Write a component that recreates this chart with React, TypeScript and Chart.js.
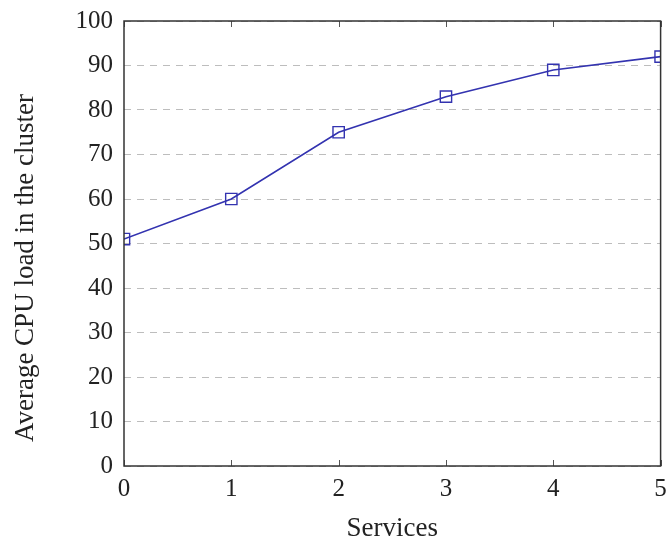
import React, { useEffect, useRef } from "react";
import { Chart, registerables } from "chart.js";

Chart.register(...registerables);

const services = [0, 1, 2, 3, 4, 5];
const cpuLoad = [51, 60, 75, 83, 89, 92];
const yTicks = [0, 10, 20, 30, 40, 50, 60, 70, 80, 90, 100];
const xTitle = "Services";
const yTitle = "Average CPU load in the cluster";

const FONT = "'Liberation Serif', 'DejaVu Serif', serif";

const boxPlugin = {
  id: "boxPlugin",
  afterDraw(chart: any) {
    const { ctx, chartArea } = chart;
    const xs = chart.scales.x;
    ctx.save();
    ctx.strokeStyle = "#555";
    ctx.lineWidth = 1;
    services.forEach((s) => {
      const px = Math.round(xs.getPixelForValue(s)) + 0.5;
      ctx.beginPath();
      ctx.moveTo(px, chartArea.bottom);
      ctx.lineTo(px, chartArea.bottom - 6);
      ctx.moveTo(px, chartArea.top);
      ctx.lineTo(px, chartArea.top + 6);
      ctx.stroke();
    });
    ctx.strokeStyle = "#333";
    ctx.lineWidth = 1.5;
    ctx.strokeRect(chartArea.left, chartArea.top, chartArea.right - chartArea.left, chartArea.bottom - chartArea.top);

    ctx.fillStyle = "#222";
    ctx.font = `27px ${FONT}`;
    ctx.textAlign = "center";
    ctx.textBaseline = "alphabetic";
    ctx.fillText(xTitle, (chartArea.left + chartArea.right) / 2, 536);
    ctx.translate(33, 268);
    ctx.rotate(-Math.PI / 2);
    ctx.fillText(yTitle, 0, 0);
    ctx.restore();
  },
};

export default function App() {
  const ref = useRef<HTMLCanvasElement>(null);
  useEffect(() => {
    if (!ref.current) return;
    const chart = new Chart(ref.current, {
      type: "line",
      data: {
        datasets: [
          {
            data: services.map((s, i) => ({ x: s, y: cpuLoad[i] })),
            borderColor: "#3333b0",
            borderWidth: 1.6,
            pointStyle: "rect",
            pointRadius: 8,
            pointBorderWidth: 1.4,
            pointBackgroundColor: "rgba(0,0,0,0)",
            pointBorderColor: "#3333b0",
            tension: 0,
          },
        ],
      },
      options: {
        animation: false,
        responsive: false,
        events: [],
        layout: { padding: { top: 21, right: 9, left: 0, bottom: 0 } },
        plugins: { legend: { display: false }, tooltip: { enabled: false } },
        scales: {
          x: {
            type: "linear",
            min: 0,
            max: 5,
            afterFit: (s: any) => { s.height = 76; s.paddingLeft = 0; s.paddingRight = 0; },
            afterBuildTicks: (s: any) => { s.ticks = services.map((v) => ({ value: v })); },
            grid: { display: false, drawTicks: false },
            border: { display: false },
            ticks: { color: "#222", font: { family: FONT, size: 25 }, padding: 8 },
          },
          y: {
            min: 0,
            max: 100,
            afterFit: (s: any) => { s.width = 124; s.paddingTop = 0; s.paddingBottom = 0; },
            afterBuildTicks: (s: any) => { s.ticks = yTicks.map((v) => ({ value: v })); },
            grid: { color: "#bdbdbd", lineWidth: 1, drawTicks: false },
            border: { display: false, dash: [7, 6] },
            ticks: { color: "#222", font: { family: FONT, size: 25 }, padding: 11 },
          },
        },
      },
      plugins: [boxPlugin],
    });
    return () => chart.destroy();
  }, []);
  return (
    <div style={{ position: "fixed", left: 0, top: 0, width: 670, height: 542, background: "#fff" }}>
      <canvas ref={ref} width={670} height={542} style={{ width: 670, height: 542 }} />
    </div>
  );
}
